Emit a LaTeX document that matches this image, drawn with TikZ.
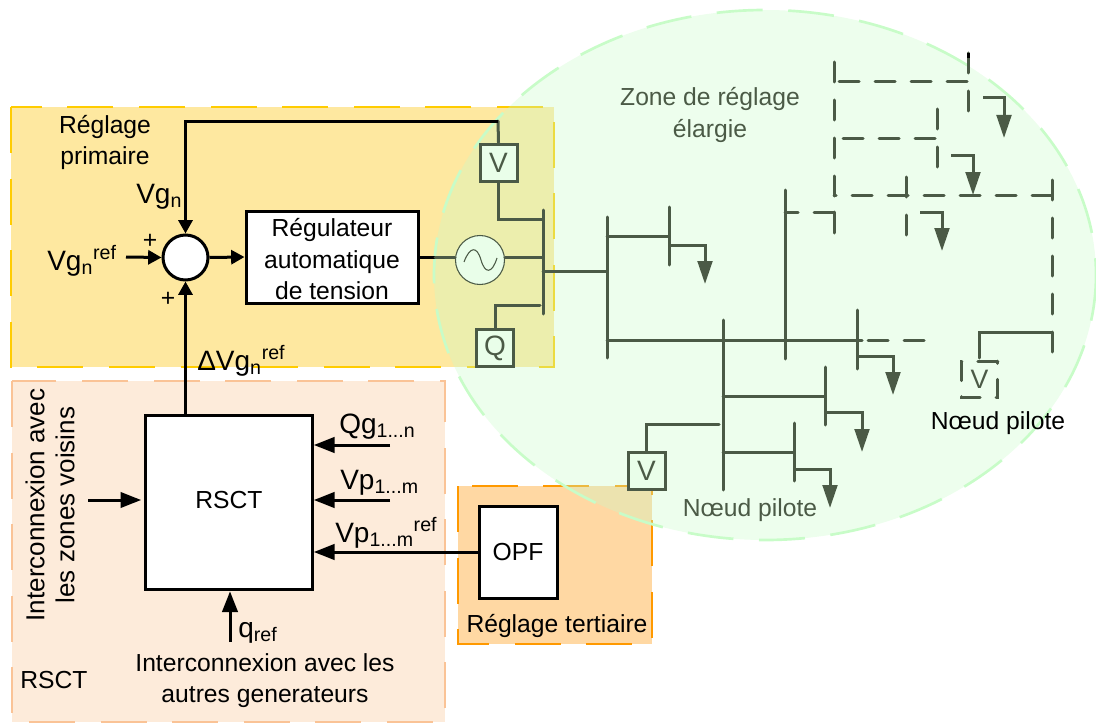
\documentclass[tikz,border=0pt]{standalone}
\usepackage{fontspec}
\setmainfont{Liberation Sans}
\usepackage{tikz}
\usetikzlibrary{positioning,calc,arrows.meta}
\usepackage{xcolor}
\definecolor{primfill}{RGB}{254,232,160}
\definecolor{primdash}{RGB}{255,204,0}
\definecolor{rsctfill}{RGB}{253,235,218}
\definecolor{rsctdash}{RGB}{250,195,150}
\definecolor{tertfill}{RGB}{255,216,163}
\definecolor{tertdash}{RGB}{255,153,0}
\definecolor{zonegreen}{RGB}{200,252,200}
\definecolor{netgreen}{RGB}{75,90,70}
\definecolor{palegreen}{RGB}{233,254,233}

\begin{document}
\begin{tikzpicture}[
  x=0.75pt, y=-0.75pt,
  lbl/.style={font=\fontsize{18.5}{23.6}\selectfont, inner sep=0pt, align=center},
  biglbl/.style={font=\fontsize{21}{24}\selectfont, inner sep=0pt},
  zonebox/.style={line width=2pt, dash pattern=on 34.5pt off 19.2pt},
  blockbox/.style={rectangle, draw=black, fill=white, line width=2.25pt, inner sep=0pt},
  sumnode/.style={circle, draw=black, fill=white, line width=2.25pt, inner sep=0pt,
                  minimum size=33.75pt},
  sigline/.style={draw=black, line width=2.25pt},
  sigarrow/.style={sigline, -{Triangle[length=10pt,width=10.5pt]}},
  inarrow/.style={sigline, -{Triangle[length=15.5pt,width=11.5pt]}},
  measbox/.style={rectangle, draw=netgreen, fill=palegreen, line width=2.25pt,
                  minimum size=27.75pt, inner sep=0pt, text=netgreen,
                  font=\fontsize{21}{24}\selectfont},
  wire/.style={draw=netgreen, line width=2.25pt, line cap=round},
  hdash/.style={wire, dash pattern=on 15pt off 12pt},
  vdash/.style={wire, dash pattern=on 15pt off 13.5pt},
  loadarrow/.style={draw=netgreen, line width=2.25pt,
                    -{Triangle[length=17.25pt,width=11pt]}},
]
\useasboundingbox (0,0) rectangle (1096,724);
%─── Zones ────────────────────────────────────────────────────────────────
\draw[zonebox, draw=rsctdash, fill=rsctfill] (12,381) rectangle (445,722);
\draw[zonebox, draw=primdash, fill=primfill] (11,107) rectangle (554,367);
\draw[zonebox, draw=tertdash, fill=tertfill] (458,486) rectangle (652,644);
\draw[zonebox, draw=zonegreen, fill=zonegreen, fill opacity=0.33]
  (765,275) ellipse [x radius=331, y radius=265];
%─── Primary loop ─────────────────────────────────────────────────────────
\node[sumnode] (sum) at (185.5,257.5) {};
\node[blockbox, lbl, minimum width=129pt, minimum height=69pt] (reg) at (332,257)
  {\rule{0pt}{17pt}Régulateur\\automatique\\de tension};
\node[measbox] (vgen) at (498.5,162.5) {V};
\node[measbox] (qgen) at (495,348) {Q};
\node[circle, draw=netgreen, fill=palegreen, line width=0.8pt, minimum size=36.75pt,
      inner sep=0pt] (gen) at (480,260) {};
\draw[netgreen, line width=0.8pt] (464,262) .. controls (470,246) and (477,246) .. (481,260)
  .. controls (485,274) and (492,274) .. (497,258);
\coordinate (fbtop) at (498,121);
\coordinate (vgin) at (126,257);
\coordinate (regout) at (435,257);
\draw[wire] (vgen.north) -- (fbtop);
\draw[sigarrow] (fbtop) -- (sum |- fbtop) -- (sum.north);
\draw[sigarrow] (vgin) -- (sum.west);
\draw[sigarrow] (sum.east) -- (reg.west);
\draw[sigline] (reg.east) -- (regout);
\draw[wire] (regout) -- (gen.west |- regout);
\node[lbl, anchor=center] (titleprim) at (105,142.5) {Réglage\\primaire};
\node[biglbl, anchor=base west] (lblvg) at (136,203) {Vg\textsubscript{n}};
\node[biglbl, anchor=base west] (lblvgref) at (47,270) {Vg\textsubscript{n}\textsuperscript{ref}};
\node[lbl] (plusa) at (150,241) {+};
\node[lbl] (plusb) at (168,299) {+};
\node[biglbl, anchor=base west] (lbldv) at (197,370) {ΔVg\textsubscript{n}\textsuperscript{ref}};
%─── RSCT block ───────────────────────────────────────────────────────────
\node[blockbox, lbl, text depth=3.5pt, minimum width=125pt, minimum height=131pt] (rsct) at (229,502.5) {RSCT};
\node[blockbox, lbl, minimum width=58.5pt, minimum height=69pt] (opf) at (518,552) {OPF};
\coordinate (qgin) at (390,445);
\coordinate (vpin) at (390,500);
\coordinate (zonin) at (88,500);
\coordinate (qrefin) at (230,642);
\draw[sigarrow] (sum |- rsct.north) -- (sum.south);
\draw[inarrow] (qgin) -- (qgin -| rsct.east);
\draw[inarrow] (vpin) -- (vpin -| rsct.east);
\draw[inarrow] (opf.west) -- (opf.west -| rsct.east);
\draw[inarrow] (zonin) -- ($(zonin -| rsct.west)+(-3,0)$);
\draw[inarrow] (qrefin) -- (qrefin |- rsct.south);
\node[biglbl, anchor=base west] (lblqg) at (339,433) {Qg\textsubscript{1...n}};
\node[biglbl, anchor=base west] (lblvp) at (340,489) {Vp\textsubscript{1...m}};
\node[biglbl, anchor=base west] (lblvpref) at (335,542) {Vp\textsubscript{1...m}\textsuperscript{ref}};
\node[biglbl, anchor=base west] (lblq) at (238,637) {q\textsubscript{ref}};
\node[lbl, font=\fontsize{19.5}{22.5}\selectfont, rotate=90] (lblzon) at (50,505)
  {Interconnexion avec\\les zones voisins};
\node[lbl] (lblgen) at (265,680.5) {Interconnexion avec les\\autres generateurs};
\node[lbl] (titlersct) at (54,680) {RSCT};
\node[lbl] (titletert) at (557,626) {Réglage tertiaire};
%─── Network: solid part ──────────────────────────────────────────────────
\foreach \bname/\bx/\btop/\blen in {b1/543/210/104, b2/607/217/141, b3/669/207/58,
    b4/723/320/170, b5/785/190/169, b6/857/310/59, b7/825/367/58, b8/794/423/58} {
  \coordinate (\bname) at (\bx,\btop);
  \draw[wire] (\bname) -- ++(0,\blen);
}
\draw[wire] (gen.east |- regout) -- (b1 |- regout);
\draw[wire] (vgen.south) |- (b1 |- 0,219);
\draw[wire] (qgen.north) |- (540,305);
\draw[wire] (b1 |- 0,271) -- (b2 |- 0,271);
\draw[wire] (b2 |- 0,236) -- (b3 |- 0,236);
\draw[wire] (b2 |- 0,340) -- (862,340);
\draw[wire] (b4 |- 0,396) -- (b7 |- 0,396);
\draw[wire] (b4 |- 0,452) -- (b8 |- 0,452);
\foreach \bname/\ly/\lx/\ltip in {b3/245/705/284, b6/356/893/395,
    b7/412/862/452, b8/469/830/508} {
  \draw[loadarrow] (\bname |- 0,\ly) -- (\lx,\ly) -- (\lx,\ltip);
}
\node[measbox] (vnode) at (646.5,471) {V};
\draw[wire] (vnode.north) |- (719,424);
\node[lbl, text=netgreen] (lblpila) at (750,510) {Nœud pilote};
\node[lbl, text=netgreen] (titlezone) at (710,115) {Zone de réglage\\élargie};
%─── Network: dashed part ─────────────────────────────────────────────────
\foreach \bname/\bx/\btop/\blen in {d1/834/62/136, d2/968/53/60, d3/937/109/60,
    d4/906/177/60, d5/1052/180/172} {
  \coordinate (\bname) at (\bx,\btop);
  \draw[vdash] (\bname) -- ++(0,\blen);
}
\draw[sigline] (d2) -- ++(0,5);
\coordinate (ha) at (839,82);
\coordinate (hb) at (843,138);
\coordinate (hc) at (868,340);
\coordinate (dstub) at (834,233);
\draw[hdash] (ha) -- (ha -| d2);
\draw[hdash] (hb) -- (hb -| d3);
\draw[hdash] (d5 |- 0,195) -- (d1 |- 0,195);
\draw[hdash] (dstub |- 0,212) -- (b5 |- 0,212);
\draw[wire] (dstub |- 0,212) -- (dstub);
\draw[hdash] (hc) -- (930,340);
\foreach \lname/\lx/\ly/\la/\ltip in {la/983/98/1004/138, lb/951/155/973/195, lc/920/212/942/251} {
  \coordinate (\lname) at (\lx,\ly);
  \draw[loadarrow] (\lname) -- (\la,\ly) -- (\la,\ltip);
}
%─── Pilot node ───────────────────────────────────────────────────────────
\node[lbl, text=netgreen, font=\fontsize{20}{24}\selectfont, minimum size=27pt] (vpil) at (979.5,379.5) {V};
\coordinate (pilin) at (979,358);
\draw[wire] (d5 |- 0,332) -- (pilin |- 0,332) -- (pilin);
\draw[hdash] (vpil.north east) -- (vpil.north west) -- (vpil.south west)
  -- (vpil.south east) -- cycle;
\node[lbl] (lblpilb) at (998,423) {Nœud pilote};
\end{tikzpicture}
\end{document}
